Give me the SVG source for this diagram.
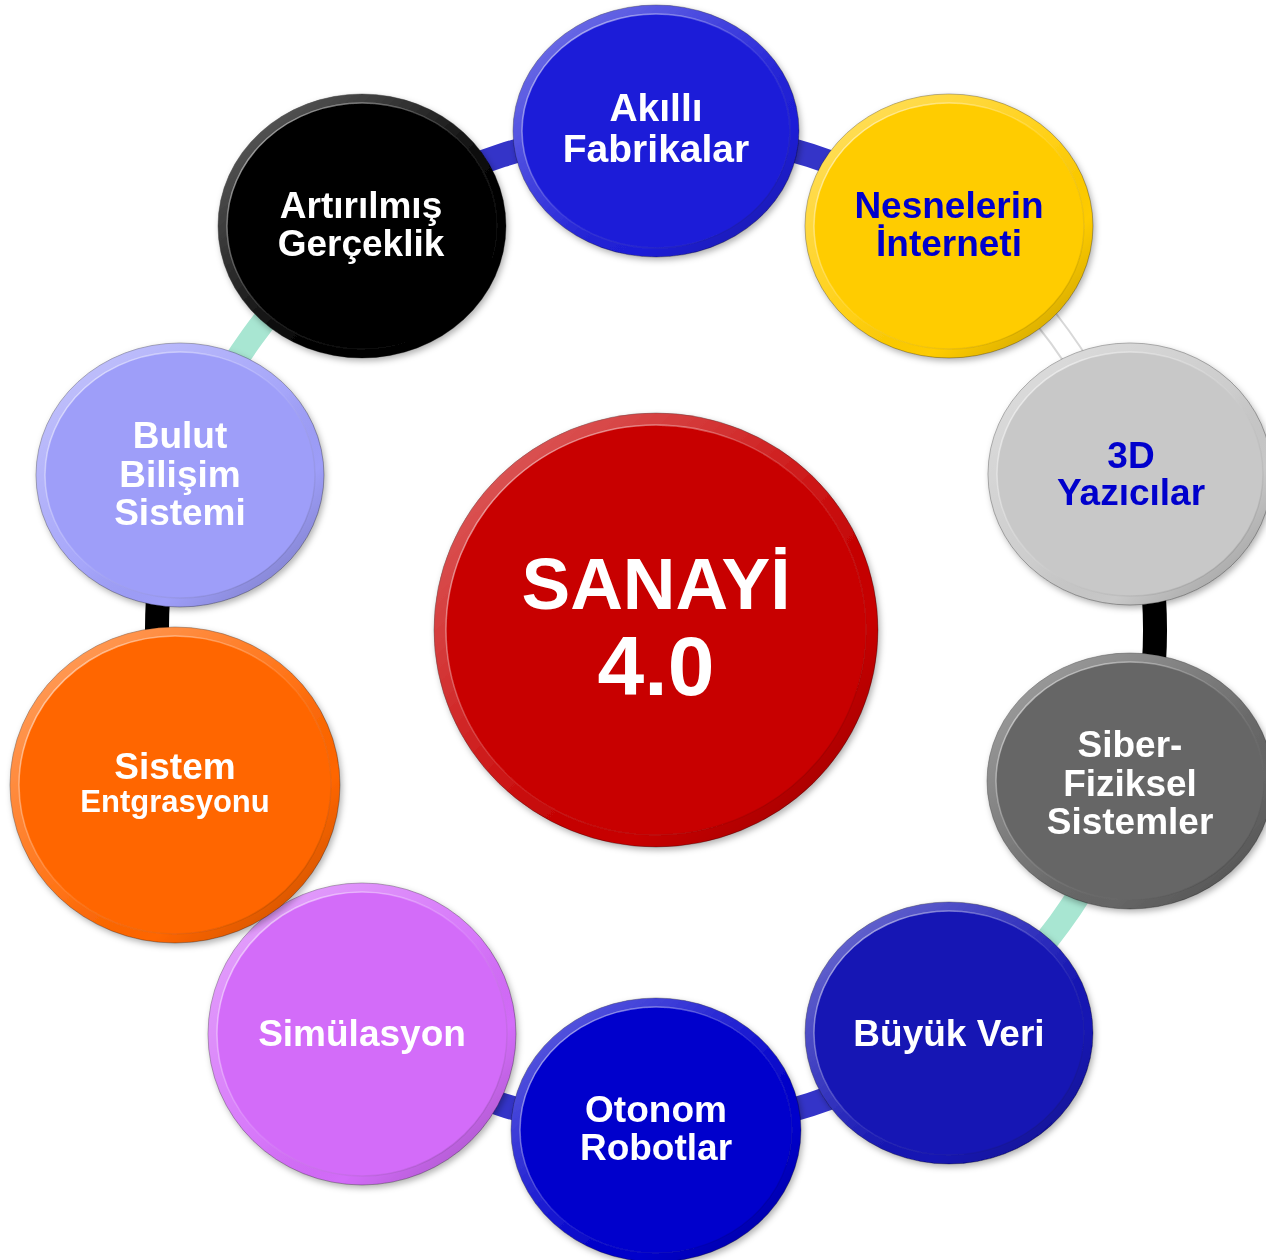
<svg xmlns="http://www.w3.org/2000/svg" width="1266" height="1260" viewBox="0 0 1266 1260">
<defs>
<filter id="sh" x="-10%" y="-10%" width="125%" height="125%">
<feDropShadow dx="2" dy="3" stdDeviation="3" flood-color="#000" flood-opacity="0.3"/>
</filter>
<linearGradient id="bev" x1="0.1" y1="0.1" x2="0.9" y2="0.95">
<stop offset="0" stop-color="#fff" stop-opacity="0.35"/>
<stop offset="0.5" stop-color="#fff" stop-opacity="0.08"/>
<stop offset="0.75" stop-color="#000" stop-opacity="0"/>
<stop offset="1" stop-color="#000" stop-opacity="0.2"/>
</linearGradient>
<linearGradient id="ie" x1="0.1" y1="0.1" x2="0.9" y2="0.9">
<stop offset="0" stop-color="#fff" stop-opacity="0.55"/>
<stop offset="0.5" stop-color="#fff" stop-opacity="0.1"/>
<stop offset="1" stop-color="#000" stop-opacity="0.12"/>
</linearGradient>
</defs>
<style>
.t{font-family:"Liberation Sans",Arial,Helvetica,sans-serif;font-weight:bold;text-anchor:middle;font-size:37px;fill:#fff}
.dk{fill:#0000cc}
.bv{fill:url(#bev)}
.in{stroke:url(#ie);stroke-width:1.5}
.edge{stroke:#000;stroke-opacity:0.3;stroke-width:1}
.c{fill:none;stroke-width:24}
</style>
<rect width="1266" height="1260" fill="#fff"/>
<g id="connectors">
<path class="c" stroke="#3434c8" d="M362.7 226.3 A499 499 0 0 1 656 131"/>
<path class="c" stroke="#3434c8" d="M656 131 A499 499 0 0 1 949.3 226.3"/>
<path class="c" stroke="#d8d8d8" d="M949.3 226.3 A499 499 0 0 1 1130.6 475.8"/>
<path class="c" stroke="#ffffff" style="stroke-width:20" d="M949.3 226.3 A499 499 0 0 1 1130.6 475.8"/>
<path class="c" stroke="#000000" d="M1130.6 475.8 A499 499 0 0 1 1130.6 784.2"/>
<path class="c" stroke="#a8e6d2" d="M1130.6 784.2 A499 499 0 0 1 949.3 1033.7"/>
<path class="c" stroke="#3434c8" d="M949.3 1033.7 A499 499 0 0 1 656 1129"/>
<path class="c" stroke="#3434c8" d="M656 1129 A499 499 0 0 1 362.7 1033.7"/>
<path class="c" stroke="#000000" d="M181.4 784.2 A499 499 0 0 1 181.4 475.8"/>
<path class="c" stroke="#a8e6d2" d="M181.4 475.8 A499 499 0 0 1 362.7 226.3"/>
</g>
<g id="center" filter="url(#sh)">
<ellipse class="edge" cx="656" cy="630" rx="222" ry="217" fill="#c80000"/>
<ellipse class="bv" cx="656" cy="630" rx="222" ry="217"/>
<ellipse class="in" cx="656" cy="630" rx="210" ry="205" fill="#c80000"/>
<text class="t" x="656" y="609" style="font-size:73px">SANAYİ</text>
<text class="t" x="656" y="695" style="font-size:84px">4.0</text>
</g>
<g id="akilli" filter="url(#sh)">
<ellipse class="edge" cx="656" cy="131" rx="143" ry="126" fill="#1f1fd8"/>
<ellipse class="bv" cx="656" cy="131" rx="143" ry="126"/>
<ellipse class="in" cx="656" cy="131" rx="134" ry="117" fill="#1f1fd8"/>
<text class="t" x="656" y="121" style="font-size:39px">Akıllı</text>
<text class="t" x="656" y="162" style="font-size:39px">Fabrikalar</text>
</g>
<g id="nesnelerin" filter="url(#sh)">
<ellipse class="edge" cx="949" cy="226" rx="144" ry="132" fill="#ffcc00"/>
<ellipse class="bv" cx="949" cy="226" rx="144" ry="132"/>
<ellipse class="in" cx="949" cy="226" rx="135" ry="123" fill="#ffcc00"/>
<text class="t dk" x="949" y="218">Nesnelerin</text>
<text class="t dk" x="949" y="256">İnterneti</text>
</g>
<g id="yazicilar" filter="url(#sh)">
<ellipse class="edge" cx="1130" cy="474" rx="142" ry="131" fill="#c8c8c8"/>
<ellipse class="bv" cx="1130" cy="474" rx="142" ry="131"/>
<ellipse class="in" cx="1130" cy="474" rx="133" ry="122" fill="#c8c8c8"/>
<text class="t dk" x="1131" y="468">3D</text>
<text class="t dk" x="1131" y="505">Yazıcılar</text>
</g>
<g id="siber" filter="url(#sh)">
<ellipse class="edge" cx="1130" cy="781" rx="143" ry="128" fill="#666666"/>
<ellipse class="bv" cx="1130" cy="781" rx="143" ry="128"/>
<ellipse class="in" cx="1130" cy="781" rx="134" ry="119" fill="#666666"/>
<text class="t" x="1130" y="757">Siber-</text>
<text class="t" x="1130" y="796">Fiziksel</text>
<text class="t" x="1130" y="834">Sistemler</text>
</g>
<g id="buyuk" filter="url(#sh)">
<ellipse class="edge" cx="949" cy="1033" rx="144" ry="131" fill="#1414b4"/>
<ellipse class="bv" cx="949" cy="1033" rx="144" ry="131"/>
<ellipse class="in" cx="949" cy="1033" rx="135" ry="122" fill="#1414b4"/>
<text class="t" x="949" y="1046">Büyük Veri</text>
</g>
<g id="simulasyon" filter="url(#sh)">
<ellipse class="edge" cx="362" cy="1034" rx="154" ry="151" fill="#d36cf9"/>
<ellipse class="bv" cx="362" cy="1034" rx="154" ry="151"/>
<ellipse class="in" cx="362" cy="1034" rx="145" ry="142" fill="#d36cf9"/>
<text class="t" x="362" y="1046">Simülasyon</text>
</g>
<g id="otonom" filter="url(#sh)">
<ellipse class="edge" cx="656" cy="1130" rx="145" ry="132" fill="#0000cc"/>
<ellipse class="bv" cx="656" cy="1130" rx="145" ry="132"/>
<ellipse class="in" cx="656" cy="1130" rx="136" ry="123" fill="#0000cc"/>
<text class="t" x="656" y="1122">Otonom</text>
<text class="t" x="656" y="1160">Robotlar</text>
</g>
<g id="sistem" filter="url(#sh)">
<ellipse class="edge" cx="175" cy="785" rx="165" ry="158" fill="#ff6600"/>
<ellipse class="bv" cx="175" cy="785" rx="165" ry="158"/>
<ellipse class="in" cx="175" cy="785" rx="156" ry="149" fill="#ff6600"/>
<text class="t" x="175" y="779">Sistem</text>
<text class="t" x="175" y="812" style="font-size:31px">Entgrasyonu</text>
</g>
<g id="bulut" filter="url(#sh)">
<ellipse class="edge" cx="180" cy="475" rx="144" ry="132" fill="#9e9ef9"/>
<ellipse class="bv" cx="180" cy="475" rx="144" ry="132"/>
<ellipse class="in" cx="180" cy="475" rx="135" ry="123" fill="#9e9ef9"/>
<text class="t" x="180" y="448">Bulut</text>
<text class="t" x="180" y="487">Bilişim</text>
<text class="t" x="180" y="525">Sistemi</text>
</g>
<g id="artirilmis" filter="url(#sh)">
<ellipse class="edge" cx="362" cy="226" rx="144" ry="132" fill="#000000"/>
<ellipse class="bv" cx="362" cy="226" rx="144" ry="132"/>
<ellipse class="in" cx="362" cy="226" rx="135" ry="123" fill="#000000"/>
<text class="t" x="361" y="218">Artırılmış</text>
<text class="t" x="361" y="256">Gerçeklik</text>
</g>
</svg>
